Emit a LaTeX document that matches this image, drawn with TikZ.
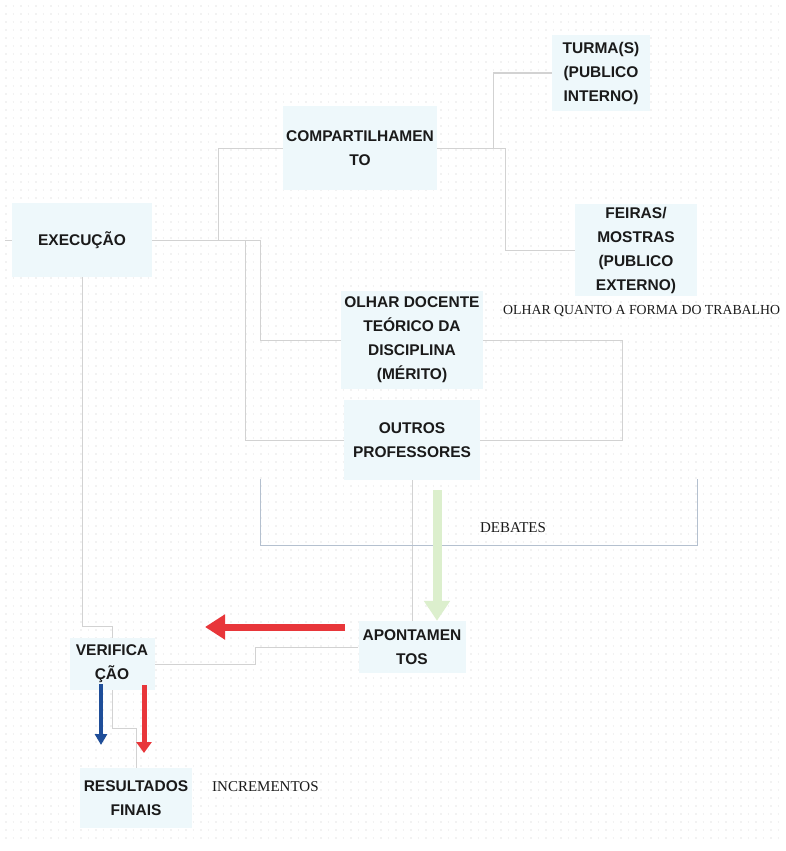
\documentclass[tikz,border=0pt]{standalone}
\usepackage{fontspec}
\setmainfont{Liberation Serif}
\setsansfont{Liberation Sans}
\usetikzlibrary{arrows.meta}
\definecolor{boxblue}{HTML}{EEF8FB}
\definecolor{wire}{HTML}{D2D2D2}
\definecolor{bracket}{HTML}{B4C0CF}
\definecolor{softgreen}{HTML}{DCEFCD}
\definecolor{alertred}{HTML}{E8363A}
\definecolor{deepblue}{HTML}{1F4E99}
\definecolor{ink}{HTML}{1A1A1A}
\tikzset{
  stage/.style={fill=boxblue, draw=none, align=center, inner sep=0pt,
    text=ink, font=\sffamily\bfseries\fontsize{15.5}{24}\selectfont},
  note/.style={text=ink, inner sep=0pt, font=\rmfamily\fontsize{15}{17}\selectfont},
  wireline/.style={draw=wire, line width=1pt},
  bracketline/.style={draw=bracket, line width=1pt},
}
\begin{document}
\begin{tikzpicture}[x=1pt, y=-1pt]
\useasboundingbox (0,0) rectangle (785,851);
\fill[white] (0,0) rectangle (785,851);
% faint dotted grid of the canvas
\foreach \r in {0,...,104} {
  \draw[black!5, line width=1.6pt, dash pattern=on 1.6pt off 5.9pt]
    (5,{6+8*\r}) -- (782,{6+8*\r});
}

% stages
\node[stage, minimum width=140pt, minimum height=74pt] (exec) at (82,240) {EXECUÇÃO};
\node[stage, minimum width=154pt, minimum height=84pt] (comp) at (360,148) {COMPARTILHAMEN\\TO};
\node[stage, minimum width=98pt, minimum height=75pt] (turma) at (601,73) {TURMA(S)\\(PUBLICO\\INTERNO)};
\node[stage, minimum width=122pt, minimum height=92pt] (feiras) at (636,250) {FEIRAS/\\MOSTRAS\\(PUBLICO\\EXTERNO)};
\node[stage, minimum width=142pt, minimum height=98pt] (olhar) at (412,340) {OLHAR DOCENTE\\TEÓRICO DA\\DISCIPLINA\\(MÉRITO)};
\node[stage, minimum width=136pt, minimum height=80pt] (outros) at (412,440) {OUTROS\\PROFESSORES};
\node[stage, minimum width=107pt, minimum height=52pt] (apont) at (412,647) {APONTAMEN\\TOS};
\node[stage, minimum width=85pt, minimum height=52pt] (verif) at (112,664) {VERIFICA\\ÇÃO};
\node[stage, minimum width=112pt, minimum height=60pt] (result) at (136,798) {RESULTADOS\\FINAIS};

% plain labels
\node[note, anchor=west, font=\rmfamily\fontsize{13.8}{17}\selectfont] (forma) at (503,311) {OLHAR QUANTO A FORMA DO TRABALHO};
\node[note] (debates) at (513,528) {DEBATES};
\node[note, anchor=west] (incr) at (212,787) {INCREMENTOS};

% junction points of the connectors
\coordinate (stub) at (5,240);
\coordinate (jC) at (218,240);
\coordinate (jB) at (245,240);
\coordinate (jE) at (260,240);
\coordinate (jT) at (493,148);
\coordinate (jF) at (505,148);
\coordinate (rA) at (622,340);
\coordinate (rB) at (622,440);
\coordinate (vA) at (82,626);
\coordinate (vB) at (112,626);
\coordinate (aA) at (255,647);
\coordinate (aB) at (255,664);
\coordinate (fA) at (112,728);
\coordinate (fB) at (136,728);
\coordinate (dA) at (260,479);
\coordinate (dB) at (260,545);
\coordinate (dC) at (697,545);
\coordinate (dD) at (697,479);

% connectors
\draw[wireline] (stub) -- (exec.west);
\draw[wireline] (exec.east) -- (jE);
\draw[wireline] (jC) |- (comp.west);
\draw[wireline] (jE) |- (olhar.west);
\draw[wireline] (jB) |- (outros.west);
\draw[wireline] (comp.east) -- (jF);
\draw[wireline] (jT) |- (turma.west);
\draw[wireline] (jF) |- (feiras.west);
\draw[wireline] (olhar.east) -- (rA) -- (rB) -- (outros.east);
\draw[wireline] (exec.south) -- (vA) -- (vB) -- (verif.north);
\draw[wireline] (outros.south) -- (apont.north);
\draw[wireline] (apont.west) -- (aA) -- (aB) -- (verif.east);
\draw[wireline] (verif.south) -- (fA) -- (fB) -- (result.north);
\draw[bracketline] (dA) -- (dB) -- (dC) -- (dD);

% arrows
\coordinate (gS) at (437,490);
\draw[softgreen, line width=9pt, -{Triangle[width=25pt,length=20pt]}] (gS) -- (apont.north -| gS);
\coordinate (rS) at (345,627);
\coordinate (rE) at (205,627);
\draw[alertred, line width=7pt, -{Triangle[width=24pt,length=20pt]}] (rS) -- (rE);
\coordinate (bS) at (101,684);
\coordinate (bE) at (101,745);
\draw[deepblue, line width=3.5pt, -{Triangle[width=12pt,length=11pt]}] (bS) -- (bE);
\coordinate (qS) at (144,685);
\coordinate (qE) at (144,753);
\draw[alertred, line width=5pt, -{Triangle[width=15pt,length=11pt]}] (qS) -- (qE);
\end{tikzpicture}
\end{document}
